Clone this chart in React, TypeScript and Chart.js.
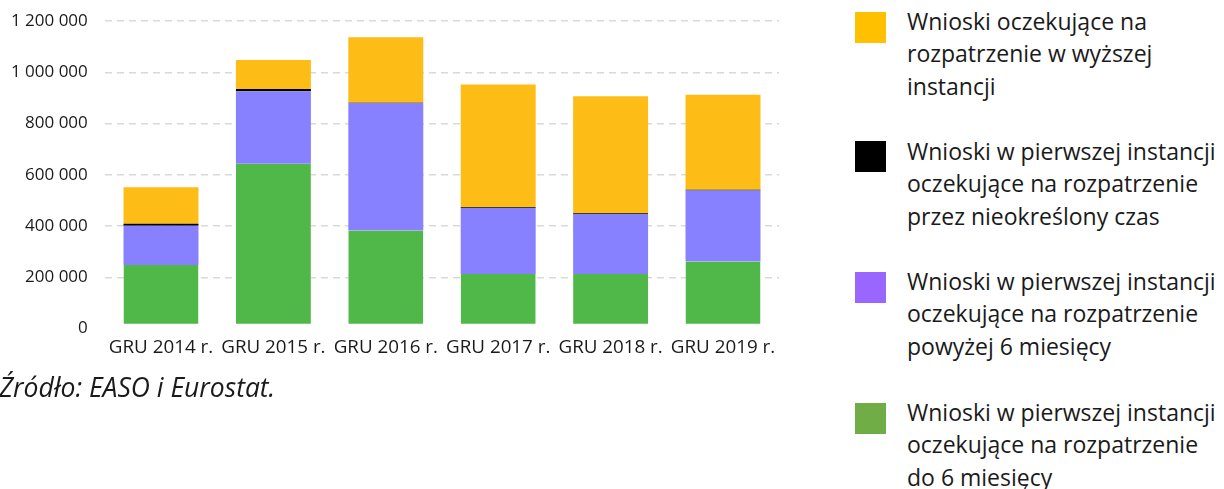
import React, { useEffect, useRef } from "react";
import { Chart, registerables } from "chart.js";

Chart.register(...registerables);

const categories = ["GRU 2014 r.", "GRU 2015 r.", "GRU 2016 r.", "GRU 2017 r.", "GRU 2018 r.", "GRU 2019 r."];
const upTo6Months = [248000, 643000, 383000, 213000, 213000, 262000];
const over6Months = [153000, 283000, 497000, 257000, 234000, 277000];
const indefinite = [8000, 9000, 1000, 3000, 3000, 3000];
const higherInstance = [142000, 113000, 256000, 479000, 456000, 370000];

const legendItems = [
  { color: "#FFC000", lines: ["Wnioski oczekujące na", "rozpatrzenie w wyższej", "instancji"] },
  { color: "#000000", lines: ["Wnioski w pierwszej instancji", "oczekujące na rozpatrzenie", "przez nieokreślony czas"] },
  { color: "#9966FF", lines: ["Wnioski w pierwszej instancji", "oczekujące na rozpatrzenie", "powyżej 6 miesięcy"] },
  { color: "#70AD47", lines: ["Wnioski w pierwszej instancji", "oczekujące na rozpatrzenie", "do 6 miesięcy"] },
];

const sourceText = "Źródło: EASO i Eurostat.";

const fmt = (v: number) => String(Math.round(v)).replace(/\B(?=(\d{3})+(?!\d))/g, " ");

const FONT = "'Open Sans', sans-serif";

export default function App() {
  const ref = useRef<HTMLCanvasElement | null>(null);

  useEffect(() => {
    if (!ref.current) return;
    const chart = new Chart(ref.current, {
      type: "bar",
      data: {
        labels: categories,
        datasets: [
          {
            label: "do 6 miesięcy",
            data: upTo6Months,
            backgroundColor: "#50B848",
            borderColor: "#ffffff",
            borderWidth: { top: 0, left: 0, right: 0, bottom: 4 },
            borderSkipped: false,
          },
          { label: "powyżej 6 miesięcy", data: over6Months, backgroundColor: "#8781FF", borderWidth: 0 },
          { label: "nieokreślony czas", data: indefinite, backgroundColor: "#000000", borderWidth: 0 },
          { label: "wyższa instancja", data: higherInstance, backgroundColor: "#FDBD16", borderWidth: 0 },
        ],
      },
      options: {
        responsive: false,
        animation: false,
        datasets: { bar: { barPercentage: 0.667, categoryPercentage: 1 } },
        layout: { padding: { top: 21, right: 20.8, left: 0, bottom: 0 } },
        plugins: { legend: { display: false }, tooltip: { enabled: false } },
        scales: {
          x: {
            stacked: true,
            grid: { display: false, drawTicks: false },
            border: { display: false },
            ticks: {
              font: { family: FONT, size: 18.8 },
              color: "#1a1a1a",
              padding: 8,
              maxRotation: 0,
              autoSkip: false,
            },
            afterFit: (s: any) => {
              s.height = 41.4;
            },
          },
          y: {
            stacked: true,
            min: 0,
            max: 1200000,
            grid: {
              drawTicks: false,
              lineWidth: 1.5,
              color: (c: any) => (c.tick && c.tick.value === 0 ? "rgba(0,0,0,0)" : "#d9d9d9"),
            },
            border: { display: false, dash: [7, 5] },
            ticks: {
              stepSize: 200000,
              font: { family: FONT, size: 17 },
              color: "#1a1a1a",
              padding: 17,
              callback: (v: any) => fmt(Number(v)),
            },
            afterFit: (s: any) => {
              s.width = 104.8;
              s.paddingTop = 10;
              s.paddingBottom = 10;
            },
          },
        },
      },
    });
    return () => chart.destroy();
  }, []);

  const squareTops = [12, 141, 272, 403];
  const textTops = [4.8, 134.8, 264.8, 395.8];

  return (
    <div style={{ position: "absolute", left: 0, top: 0, width: 1224, height: 489, background: "#fff", fontFamily: FONT, overflow: "hidden" }}>
      <canvas ref={ref} width={800} height={370} style={{ position: "absolute", left: 0, top: 0 }} />
      <div
        style={{
          position: "absolute",
          left: -1,
          top: 371,
          fontStyle: "italic",
          fontSize: 26.5,
          lineHeight: "32px",
          color: "#1a1a1a",
          whiteSpace: "nowrap",
        }}
      >
        {sourceText}
      </div>
      {legendItems.map((it, i) => (
        <React.Fragment key={i}>
          <div style={{ position: "absolute", left: 855, top: squareTops[i], width: 31, height: 31, background: it.color }} />
          <div
            style={{
              position: "absolute",
              left: 907,
              top: textTops[i],
              fontSize: 23,
              lineHeight: "32.5px",
              color: "#1a1a1a",
              whiteSpace: "nowrap",
            }}
          >
            {it.lines.map((l, j) => (
              <div key={j}>{l}</div>
            ))}
          </div>
        </React.Fragment>
      ))}
    </div>
  );
}
